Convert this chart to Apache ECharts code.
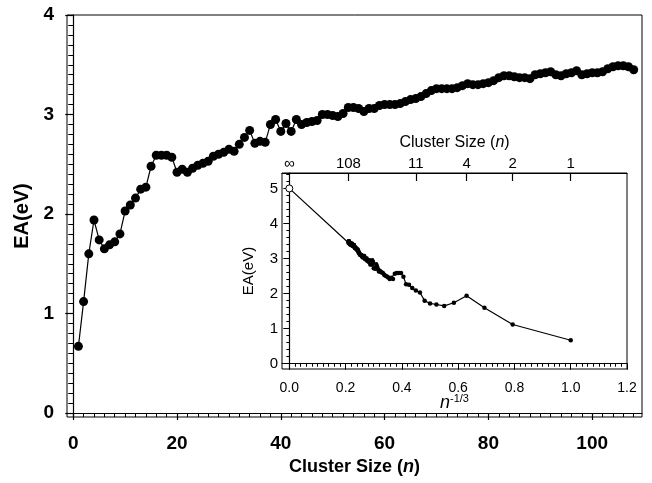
<!DOCTYPE html>
<html>
<head>
<meta charset="utf-8">
<script src="https://cdn.jsdelivr.net/npm/echarts@6/dist/echarts.min.js"></script>
<style>
html,body{margin:0;padding:0;background:#fff;}
#c{width:652px;height:483px;}
</style>
</head>
<body>
<div id="c"></div>
<script>
// Cluster sizes n
const clusterSizes = [];
for (let i = 1; i <= 108; i++) clusterSizes.push(i);
// Electron affinity (eV) for n = 1..108
const eaValues = [
  0.67, 1.12, 1.60, 1.94, 1.74, 1.65, 1.69, 1.72, 1.80, 2.03,
  2.09, 2.16, 2.25, 2.27, 2.48, 2.59, 2.59, 2.59, 2.57, 2.42,
  2.45, 2.42, 2.46, 2.49, 2.51, 2.53, 2.58, 2.60, 2.62, 2.65,
  2.63, 2.70, 2.77, 2.84, 2.71, 2.73, 2.72, 2.90, 2.95, 2.83,
  2.91, 2.83, 2.95, 2.90, 2.92, 2.93, 2.94, 3.00, 3.00, 2.99,
  2.98, 3.01, 3.07, 3.07, 3.06, 3.03, 3.06, 3.06, 3.09, 3.10,
  3.10, 3.10, 3.11, 3.13, 3.15, 3.16, 3.18, 3.21, 3.24, 3.26,
  3.26, 3.26, 3.26, 3.27, 3.29, 3.31, 3.30, 3.30, 3.31, 3.32,
  3.34, 3.37, 3.39, 3.39, 3.38, 3.37, 3.37, 3.36, 3.40, 3.41,
  3.42, 3.43, 3.40, 3.39, 3.41, 3.42, 3.44, 3.40, 3.41, 3.42,
  3.42, 3.43, 3.46, 3.48, 3.49, 3.49, 3.48, 3.45
];
// bulk-limit point (n = infinity, n^-1/3 = 0)
const bulkEA = 5.0;

// tick labels
const mainXTicks = [0, 20, 40, 60, 80, 100];
const mainYTicks = [0, 1, 2, 3, 4];
const insetXTicks = [0, 0.2, 0.4, 0.6, 0.8, 1.0, 1.2];
const insetYTicks = [0, 1, 2, 3, 4, 5];
const insetTopLabels = ['\u221E', '108', '11', '4', '2', '1'];
const insetTopN = [Infinity, 108, 11, 4, 2, 1];

const FONT = '"Liberation Sans", Arial, Helvetica, sans-serif';
const toX = n => (n === Infinity ? 0 : Math.pow(n, -1 / 3));
const insetTopVals = insetTopN.map(toX);

function range(a, b, s) { const r = []; for (let v = a; v <= b + 1e-9; v += s) r.push(+v.toFixed(4)); return r; }

const mainData = clusterSizes.map((n, i) => [n, eaValues[i]]);
const insetData = [{ value: [0, bulkEA], symbolSize: 7, itemStyle: { color: '#fff', borderColor: '#000', borderWidth: 1 } }]
  .concat(clusterSizes.slice().reverse().map(n => [toX(n), eaValues[n - 1]]));

const chart = echarts.init(document.getElementById('c'), null, { renderer: 'canvas' });

const noSplit = { show: false };
const lineBlack = { show: true, lineStyle: { color: '#000', width: 1.2 } };

chart.setOption({
  backgroundColor: '#fff',
  animation: false,
  grid: [
    { left: 67, top: 15, right: 10, bottom: 66, show: true, borderColor: '#000', borderWidth: 1, backgroundColor: 'transparent' },
    { left: 282, top: 173, right: 25, bottom: 114, show: true, borderColor: '#000', borderWidth: 1, backgroundColor: 'transparent' }
  ],
  xAxis: [
    { // main x, labels & major ticks
      gridIndex: 0, type: 'value', min: -1.2, max: 109.6, position: 'bottom',
      axisLine: lineBlack, splitLine: noSplit,
      axisTick: { show: true, customValues: mainXTicks, length: 7, lineStyle: { color: '#000', width: 1.2 } },
      axisLabel: { customValues: mainXTicks, color: '#000', fontFamily: FONT, fontWeight: 'bold', fontSize: 19, margin: 17 },
      name: 'Cluster Size ({i|n})', nameLocation: 'middle', nameGap: 41, nameMoveOverlap: false,
      nameTextStyle: { color: '#000', fontFamily: FONT, fontWeight: 'bold', fontSize: 18,
        rich: { i: { fontStyle: 'italic', fontWeight: 'bold', fontSize: 18, fontFamily: FONT, color: '#000' } } }
    },
    { // main x minor ticks
      gridIndex: 0, type: 'value', min: -1.2, max: 109.6, position: 'bottom', offset: 0,
      axisLine: { show: false }, splitLine: noSplit, axisLabel: { show: false },
      axisTick: { show: true, customValues: range(0, 108, 2), length: 4, lineStyle: { color: '#000', width: 1 } }
    },
    { // inset bottom x
      gridIndex: 1, type: 'value', min: -0.026, max: 1.2, position: 'bottom',
      axisLine: lineBlack, splitLine: noSplit,
      axisTick: { show: true, customValues: insetXTicks, length: 6, lineStyle: { color: '#000', width: 1 } },
      axisLabel: { customValues: insetXTicks, formatter: v => v.toFixed(1), color: '#000', fontFamily: FONT, fontSize: 14, margin: 12 },
      name: '{n|n}{s|-1/3}', nameLocation: 'middle', nameGap: 24, nameMoveOverlap: false,
      nameTextStyle: { rich: {
        n: { fontSize: 18, fontStyle: 'italic', fontFamily: FONT, color: '#000' },
        s: { fontSize: 11, fontFamily: FONT, color: '#000', padding: [0, 0, 8, 0] } } }
    },
    { // inset bottom minor ticks
      gridIndex: 1, type: 'value', min: -0.026, max: 1.2, position: 'bottom', offset: 0,
      axisLine: { show: false }, splitLine: noSplit, axisLabel: { show: false },
      axisTick: { show: true, customValues: range(0, 1.2, 0.02), length: 3, lineStyle: { color: '#000', width: 1 } }
    },
    { // inset top: cluster size
      gridIndex: 1, type: 'value', min: -0.026, max: 1.2, position: 'top', offset: 0,
      axisLine: lineBlack, splitLine: noSplit,
      axisTick: { show: true, inside: true, customValues: insetTopVals.slice(1), length: 8, lineStyle: { color: '#000', width: 1.2 } },
      axisLabel: { customValues: insetTopVals, color: '#000', fontFamily: FONT, fontSize: 15, margin: 2,
        formatter: v => { let best = 0, d = 1e9; insetTopVals.forEach((t, i) => { if (Math.abs(t - v) < d) { d = Math.abs(t - v); best = i; } }); return insetTopLabels[best]; } },
      name: 'Cluster Size ({i|n})', nameLocation: 'middle', nameGap: 22,
      nameTextStyle: { color: '#000', fontFamily: FONT, fontSize: 16,
        rich: { i: { fontStyle: 'italic', fontSize: 16, fontFamily: FONT, color: '#000' } } }
    }
  ],
  yAxis: [
    { // main y
      gridIndex: 0, type: 'value', min: -0.04, max: 4,
      axisLine: lineBlack, splitLine: noSplit,
      axisTick: { show: true, customValues: mainYTicks, length: 8, lineStyle: { color: '#000', width: 1.2 } },
      axisLabel: { customValues: mainYTicks, color: '#000', fontFamily: FONT, fontWeight: 'bold', fontSize: 19, margin: 13 },
      name: 'EA(eV)', nameLocation: 'middle', nameGap: 26,
      nameTextStyle: { color: '#000', fontFamily: FONT, fontWeight: 'bold', fontSize: 20 }
    },
    { // main y minor
      gridIndex: 0, type: 'value', min: -0.04, max: 4, position: 'left', offset: 0,
      axisLine: { show: false }, splitLine: noSplit, axisLabel: { show: false },
      axisTick: { show: true, customValues: range(0, 4, 0.1), length: 5, lineStyle: { color: '#000', width: 1 } }
    },
    { // inset y
      gridIndex: 1, type: 'value', min: -0.15, max: 5.44,
      axisLine: lineBlack, splitLine: noSplit,
      axisTick: { show: true, customValues: insetYTicks, length: 6, lineStyle: { color: '#000', width: 1 } },
      axisLabel: { customValues: insetYTicks, color: '#000', fontFamily: FONT, fontSize: 15, margin: 4 },
      name: 'EA(eV)', nameLocation: 'middle', nameGap: 26,
      nameTextStyle: { color: '#000', fontFamily: FONT, fontSize: 15 }
    },
    { // inset y minor
      gridIndex: 1, type: 'value', min: -0.15, max: 5.44, position: 'left', offset: 0,
      axisLine: { show: false }, splitLine: noSplit, axisLabel: { show: false },
      axisTick: { show: true, customValues: range(0, 5.4, 0.2), length: 3, lineStyle: { color: '#000', width: 1 } }
    }
  ],
  series: [
    {
      type: 'line', xAxisIndex: 0, yAxisIndex: 0, data: mainData,
      symbol: 'circle', symbolSize: 9, itemStyle: { color: '#000' },
      lineStyle: { color: '#000', width: 1.2 }, z: 3
    },
    {
      type: 'line', xAxisIndex: 2, yAxisIndex: 2, data: insetData,
      symbol: 'circle', symbolSize: 4.5, itemStyle: { color: '#000' },
      lineStyle: { color: '#000', width: 1.2 }, z: 10
    }
  ]
});
</script>
</body>
</html>
